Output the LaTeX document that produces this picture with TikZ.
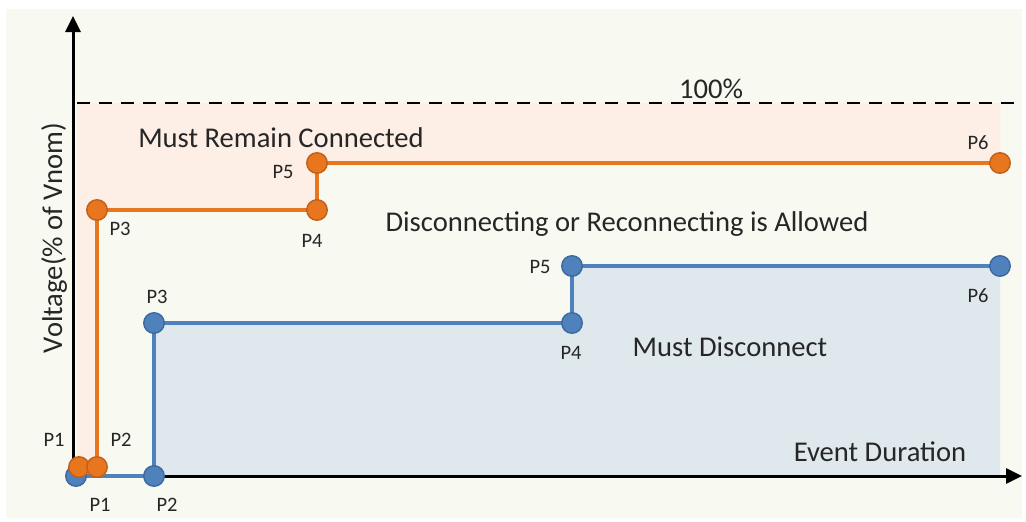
\documentclass[tikz,border=0pt]{standalone}
\usepackage{fontspec}
\setmainfont{Carlito}
\usetikzlibrary{arrows.meta}
\definecolor{bg}{HTML}{F8F9F1}
\definecolor{pinkfill}{HTML}{FDEEE6}
\definecolor{bluefill}{HTML}{DFE8EC}
\definecolor{orng}{HTML}{E8761E}
\definecolor{orngd}{HTML}{C0601A}
\definecolor{blu}{HTML}{4F81BD}
\definecolor{blud}{HTML}{3A6A9E}
\definecolor{txt}{HTML}{262626}
\tikzset{
  odot/.style={circle,fill=orng,draw=orngd,line width=1.4pt,minimum size=20.5pt,inner sep=0pt},
  bdot/.style={circle,fill=blu,draw=blud,line width=1.4pt,minimum size=20.5pt,inner sep=0pt},
  oline/.style={draw=orng,line width=4.2pt},
  bline/.style={draw=blu,line width=4.2pt},
  axis/.style={draw=black,line width=3pt,-{Triangle[length=16pt,width=15pt]}},
  plab/.style={font=\fontsize{20.5}{24}\selectfont,text=txt,inner sep=0pt},
  big/.style={font=\fontsize{28.6}{32}\selectfont,text=txt,inner sep=0pt},
}
\begin{document}
\begin{tikzpicture}[x=1pt,y=-1pt]
\useasboundingbox (0,0) rectangle (1026,522);
\fill[white] (0,0) rectangle (1026,522);
\fill[bg] (6,9) rectangle (1022,518);
% regions
\fill[pinkfill] (77,103) -- (1000,103) -- (1000,163) -- (317,163) -- (317,210) -- (97,210) -- (97,467) -- (77,467) -- cycle;
\fill[bluefill] (154,323) -- (572,323) -- (572,266) -- (1000,266) -- (1000,476) -- (154,476) -- cycle;
% dashed 100% line
\draw[black,line width=2pt,dash pattern=on 13pt off 9pt] (77,103) -- (1015,103);
% axes
\coordinate (ybase) at (73,477.5);
\coordinate (ytip) at (73,16);
\coordinate (xbase) at (71.5,476);
\coordinate (xtip) at (1022,476);
\draw[axis] (ybase) -- (ytip);
\draw[axis] (xbase) -- (xtip);
% blue curve
\coordinate (c1) at (76,476);
\coordinate (c2) at (154,476);
\coordinate (c3) at (154,323);
\coordinate (c4) at (572,323);
\coordinate (c5) at (572,266);
\coordinate (c6) at (1000,266);
\draw[bline] (c1) -- (c2) -- (c3) -- (c4) -- (c5) -- (c6);
\node[bdot] (b1) at (c1) {};\node[bdot] (b2) at (c2) {};\node[bdot] (b3) at (c3) {};
\node[bdot] (b4) at (c4) {};\node[bdot] (b5) at (c5) {};\node[bdot] (b6) at (c6) {};
% orange curve
\coordinate (o1) at (79,467);
\coordinate (o2) at (97,467);
\coordinate (o3) at (97,210);
\coordinate (o4) at (317,210);
\coordinate (o5) at (317,163);
\coordinate (o6) at (1000,163);
\draw[oline] (o1) -- (o2) -- (o3) -- (o4) -- (o5) -- (o6);
\node[odot] (n1) at (o1) {};\node[odot] (n2) at (o2) {};\node[odot] (n3) at (o3) {};
\node[odot] (n4) at (o4) {};\node[odot] (n5) at (o5) {};\node[odot] (n6) at (o6) {};
% point labels orange
\node[plab] (lo1) at (54,440) {P1};
\node[plab] (lo2) at (121,440) {P2};
\node[plab] (lo3) at (120,229) {P3};
\node[plab] (lo4) at (312,241) {P4};
\node[plab] (lo5) at (283,172) {P5};
\node[plab] (lo6) at (978,143) {P6};
% point labels blue
\node[plab] (lb1) at (100,505) {P1};
\node[plab] (lb2) at (167,505) {P2};
\node[plab] (lb3) at (157,297) {P3};
\node[plab] (lb4) at (571,353) {P4};
\node[plab] (lb5) at (540,267) {P5};
\node[plab] (lb6) at (978,296) {P6};
% texts
\node[big] (t100) at (711,89) {100\%};
\node[big] (tmrc) at (281,138) {Must Remain Connected};
\node[big] (tdra) at (627,224) {Disconnecting or Reconnecting is Allowed};
\node[big] (tmd) at (730,347) {Must Disconnect};
\node[big] (ted) at (880,452) {Event Duration};
\node[big,rotate=90] (tv) at (54,238) {Voltage(\% of Vnom)};
\end{tikzpicture}
\end{document}
